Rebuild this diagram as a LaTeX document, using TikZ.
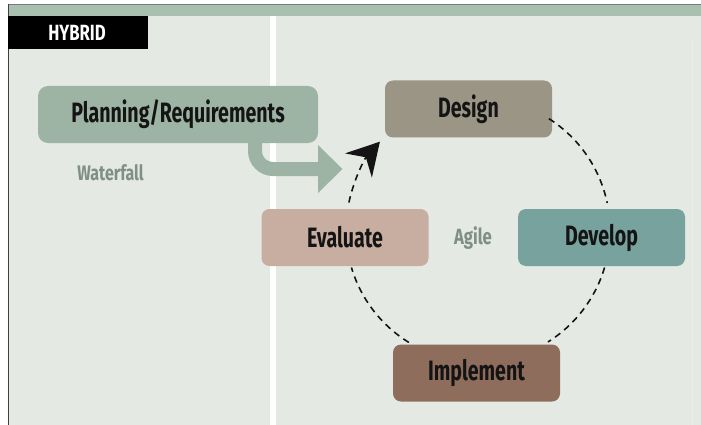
\documentclass[tikz,border=0pt]{standalone}
\usepackage{fontspec}
\setmainfont{Fira Sans}
\newfontfamily\condfont{Fira Sans}[FakeStretch=0.70]
\newfontfamily\labelfont{Fira Sans}[FakeStretch=0.76]
\usetikzlibrary{arrows.meta}

\definecolor{bgpanel}{HTML}{E4E9E4}
\definecolor{topband}{HTML}{A9C0B1}
\definecolor{framegray}{HTML}{7A7A7A}
\definecolor{planfill}{HTML}{9DB4A4}
\definecolor{designfill}{HTML}{9A9585}
\definecolor{developfill}{HTML}{77A29E}
\definecolor{evalfill}{HTML}{C8AEA1}
\definecolor{implfill}{HTML}{8E6D5D}
\definecolor{labelgray}{HTML}{7F8E86}
\definecolor{inkdark}{HTML}{141414}

\tikzset{
  phasebox/.style={rounded corners=8pt, minimum width=167pt, minimum height=57pt,
    inner sep=0pt, text=inkdark, font=\condfont\bfseries\fontsize{28}{28}\selectfont},
  sidelabel/.style={text=labelgray, inner sep=0pt, font=\labelfont\bfseries\fontsize{21}{21}\selectfont},
  cycleline/.style={draw=inkdark, line width=1.6pt, dash pattern=on 6.5pt off 5pt},
}

\begin{document}
\begin{tikzpicture}[x=1pt, y=-1pt]
  \useasboundingbox (0,0) rectangle (701,425);
  \fill[white] (0,0) rectangle (701,425);

  % panel, header band and frame
  \fill[bgpanel] (8,4) rectangle (701,425);
  \fill[topband] (8,5) rectangle (701,16);
  \draw[framegray, line width=1.2pt] (8,4.5) -- (701,4.5);
  \draw[black!75, line width=1.5pt] (8.5,4) -- (8.5,425);
  \fill[white] (270,16) rectangle (276,425);
  \draw[white!25!bgpanel, line width=1pt] (692.5,40) -- (692.5,425);

  % title tab
  \fill[black] (8,16) rectangle (148,49);
  \node[text=white, inner sep=0pt, font=\labelfont\bfseries\fontsize{22}{22}\selectfont]
    (title) at (77,33) {HYBRID};

  % waterfall stage
  \node[phasebox, fill=planfill, rounded corners=10pt, minimum width=280pt]
    (plan) at (178,114.5) {Planning/Requirements};
  \node[sidelabel] (waterfall) at (110.5,173) {Waterfall};

  % hand-off arrow into the cycle
  \coordinate (handoff) at (318,169);
  \draw[planfill, line width=14pt, rounded corners=18pt]
    (plan.south -| 255,0) ++(0,-4) |- (handoff);
  \fill[planfill] (318,145) -- (342.5,169) -- (318,193) -- cycle;

  % agile cycle
  \node[phasebox, fill=designfill]  (design)    at (468.5,109)  {Design};
  \node[phasebox, fill=developfill] (develop)   at (601.5,237.5) {Develop};
  \node[phasebox, fill=implfill]    (implement) at (476.5,373)  {Implement};
  \node[phasebox, fill=evalfill]    (evaluate)  at (345,237.5)  {Evaluate};
  \node[sidelabel, font=\labelfont\bfseries\fontsize{22}{22}\selectfont] (agile) at (473,238) {Agile};

  \coordinate (hub) at (478,230);
  \draw[cycleline] (hub) ++(-57.5:132) arc[start angle=-57.5, end angle=-11.8, radius=132];
  \draw[cycleline] (hub) ++(16.5:132) arc[start angle=16.5, end angle=58, radius=132];
  \draw[cycleline] (hub) ++(121.6:132) arc[start angle=121.6, end angle=163.5, radius=132];
  \draw[cycleline, -{Stealth[length=32pt, width=36pt, inset=11pt]}]
    (hub) ++(192:132) arc[start angle=192, end angle=222, radius=132];
\end{tikzpicture}
\end{document}
